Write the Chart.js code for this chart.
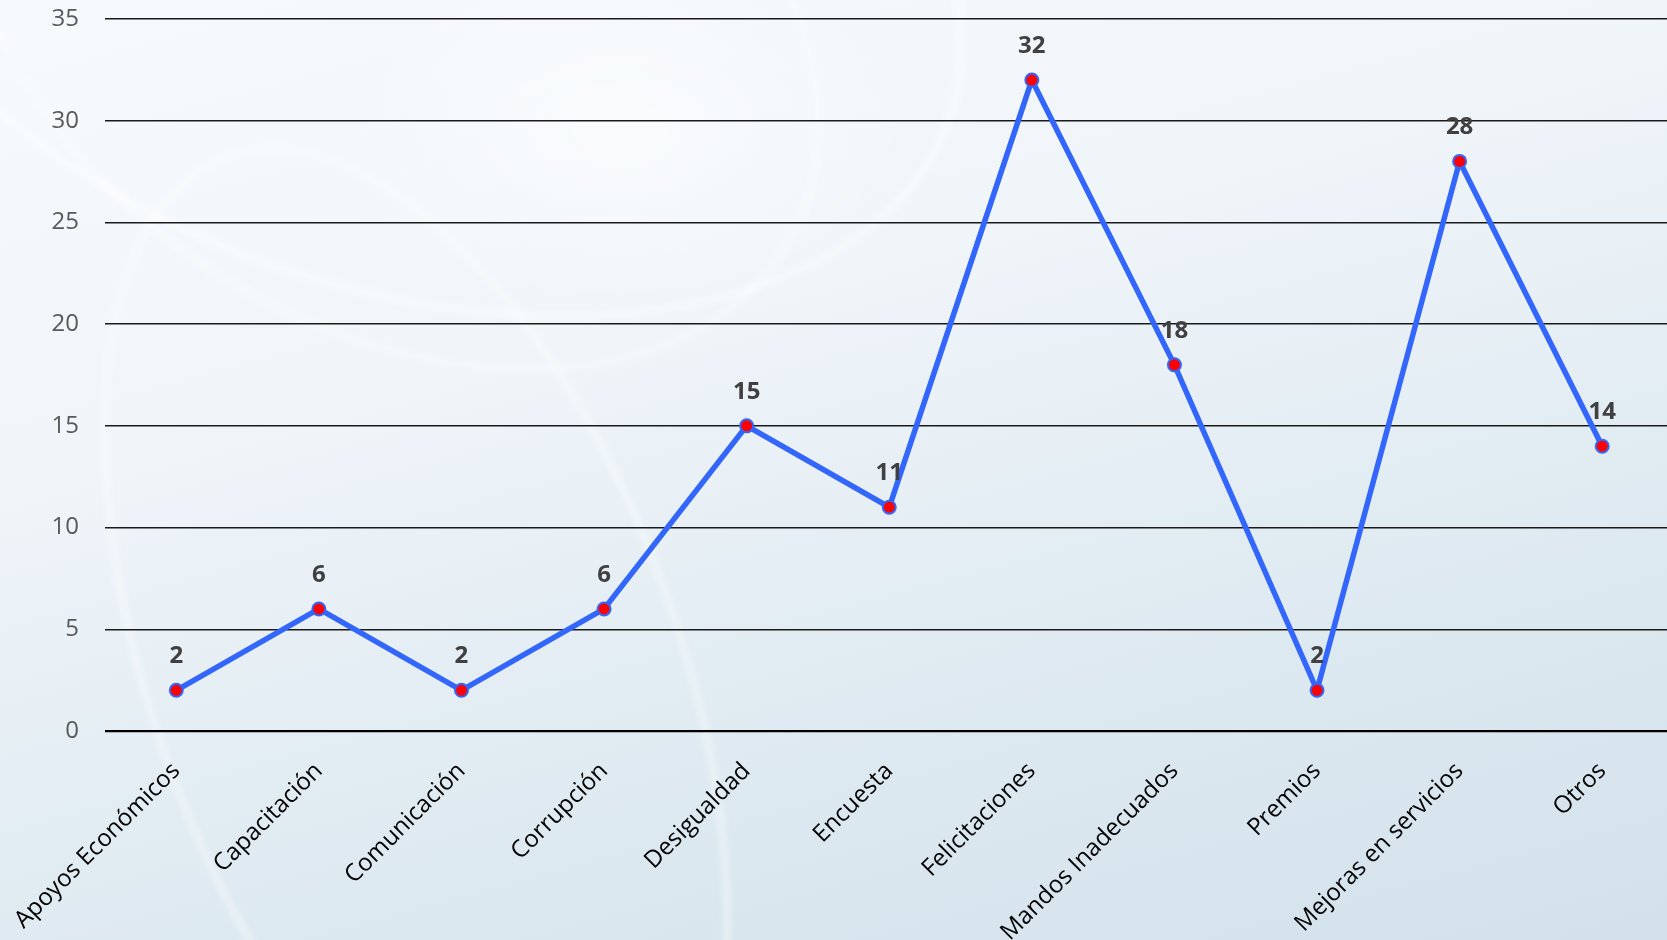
<!DOCTYPE html>
<html>
<head>
<meta charset="utf-8">
<script src="https://cdn.jsdelivr.net/npm/chart.js@4"></script>
<style>
    html, body {
        margin: 0;
        padding: 0;
        width: 1667px;
        height: 940px;
        overflow: hidden;
    }
    body {
        position: relative;
        background:
            radial-gradient(ellipse 420px 260px at 620px 130px, rgba(255,255,255,0.55), rgba(255,255,255,0) 70%),
            linear-gradient(165deg, #f7fafd 0%, #f0f5f9 35%, #e0ebf2 65%, #d2e1eb 100%);
    }
    .swirl {
        position: absolute;
        border-radius: 50%;
        border: 6px solid rgba(255,255,255,0.55);
        filter: blur(3px);
    }
    #wrap {
        position: absolute;
        left: 0;
        top: 0;
        width: 1682px;
        height: 940px;
    }
</style>
</head>
<body>
<div class="swirl" style="left:-180px; top:-420px; width:1150px; height:700px; transform: rotate(18deg);"></div>
<div class="swirl" style="left:-60px; top:-300px; width:900px; height:620px; transform: rotate(30deg); border-color: rgba(255,255,255,0.4);"></div>
<div class="swirl" style="left:150px; top:120px; width:520px; height:1100px; transform: rotate(-20deg); border-color: rgba(255,255,255,0.45);"></div>
<div id="wrap"><canvas id="chart"></canvas></div>
<script>
    const categories = [
        "Apoyos Económicos", "Capacitación", "Comunicación", "Corrupción",
        "Desigualdad", "Encuesta", "Felicitaciones", "Mandos Inadecuados",
        "Premios", "Mejoras en servicios", "Otros"
    ];
    const counts = [2, 6, 2, 6, 15, 11, 32, 18, 2, 28, 14];
    const yTicks = [0, 5, 10, 15, 20, 25, 30, 35];

    const FONT = "'Open Sans', 'Noto Sans', sans-serif";

    // Value labels above each point (no datalabels plugin available)
    const valueLabels = {
        id: "valueLabels",
        afterDatasetsDraw(chart) {
            const ctx = chart.ctx;
            const meta = chart.getDatasetMeta(0);
            ctx.save();
            ctx.font = "bold 24px " + FONT;
            ctx.fillStyle = "#404040";
            ctx.textAlign = "center";
            ctx.textBaseline = "middle";
            meta.data.forEach((pt, i) => {
                ctx.fillText(String(counts[i]), pt.x, pt.y - 34);
            });
            ctx.restore();
        }
    };

    const ctx = document.getElementById("chart").getContext("2d");

    const chart = new Chart(ctx, {
        type: "line",
        data: {
            labels: categories,
            datasets: [
                {
                    label: "Total",
                    data: counts,
                    borderColor: "#3366ff",
                    borderWidth: 5.5,
                    pointBackgroundColor: "#ff0000",
                    pointBorderColor: "#3366ff",
                    pointBorderWidth: 2,
                    pointRadius: 6.5,
                    tension: 0,
                    fill: false,
                },
            ],
        },
        options: {
            responsive: true,
            maintainAspectRatio: false,
            animation: false,
            layout: { padding: { top: 19, left: 0, right: 0, bottom: 0 } },
            plugins: {
                legend: { display: false },
                tooltip: { enabled: false },
            },
            scales: {
                x: {
                    offset: true,
                    grid: {
                        drawOnChartArea: false,
                        drawTicks: true,
                        tickLength: 26,
                        tickColor: "rgba(0,0,0,0)",
                    },
                    border: { display: false },
                    ticks: {
                        color: "#000000",
                        font: { family: FONT, size: 24 },
                        minRotation: 45,
                        maxRotation: 45,
                        autoSkip: false,
                        padding: 0,
                    },
                    afterFit: (s) => { s.height = 209; },
                },
                y: {
                    min: 0,
                    max: 35,
                    afterBuildTicks: (s) => { s.ticks = yTicks.map(v => ({ value: v })); },
                    grid: {
                        drawTicks: true,
                        tickLength: 26,
                        tickColor: "rgba(0,0,0,0)",
                        color: (c) => c.tick && c.tick.value === 0 ? "#000000" : "#1a1a1a",
                        lineWidth: (c) => c.tick && c.tick.value === 0 ? 2.2 : 1.5,
                    },
                    border: { display: false },
                    ticks: {
                        color: "#595959",
                        font: { family: FONT, size: 24 },
                        padding: 0,
                    },
                    afterFit: (s) => { s.width = 105; },
                },
            },
        },
        plugins: [valueLabels],
    });
</script>
</body>
</html>
